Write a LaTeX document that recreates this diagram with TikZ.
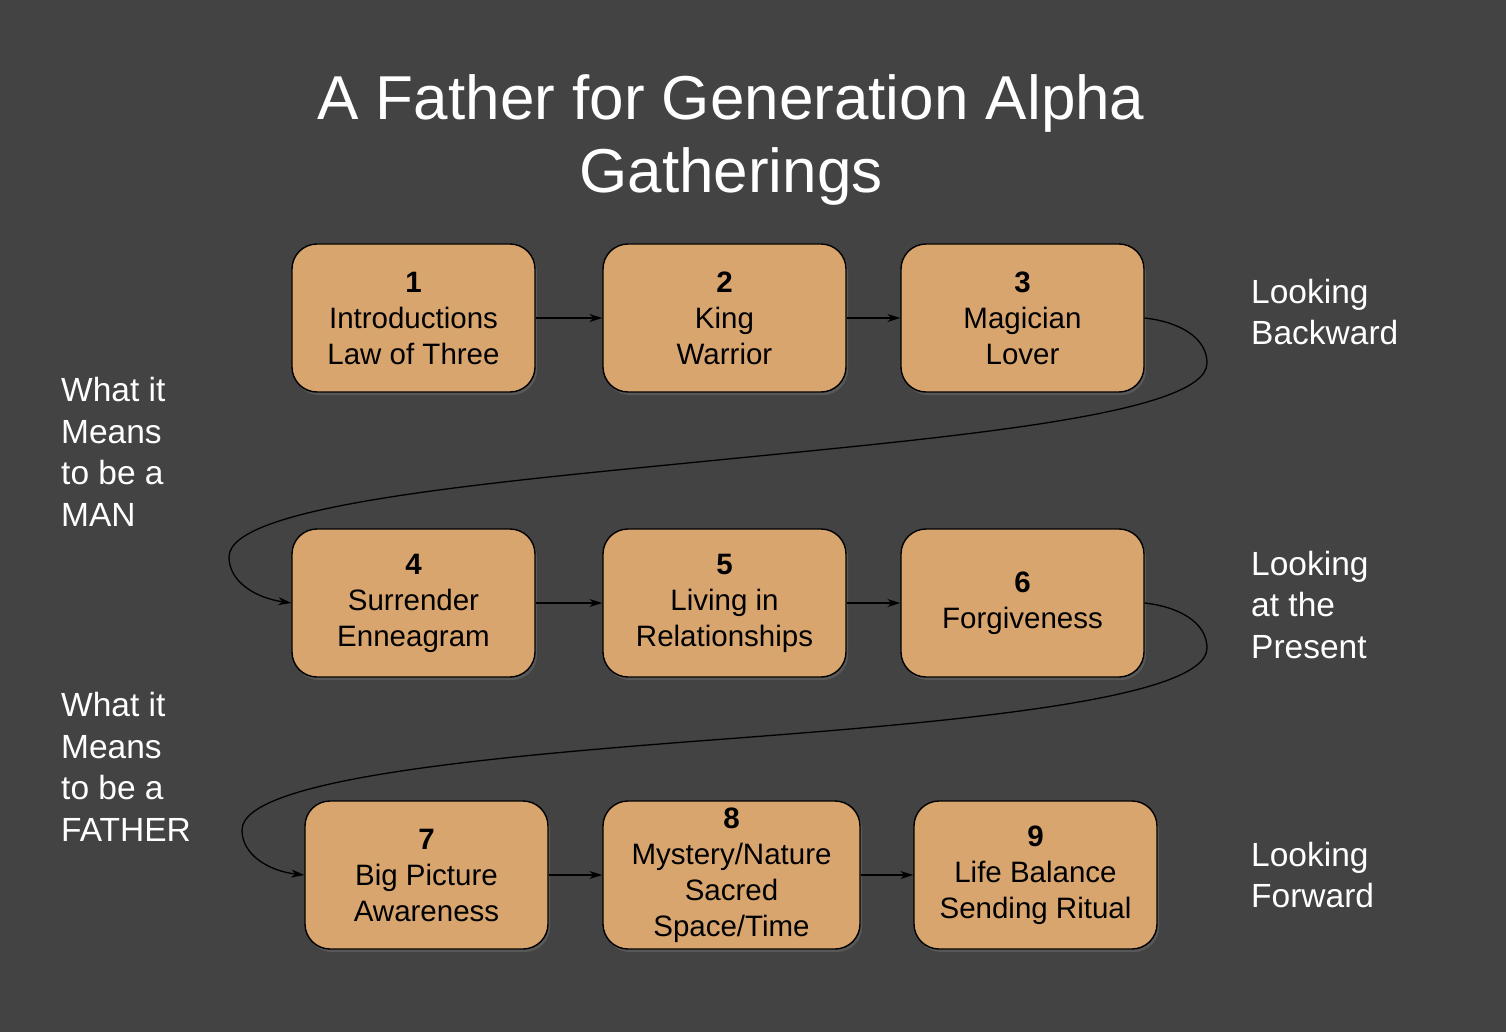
\documentclass[tikz,border=0pt]{standalone}
\usepackage{fontspec}
\setmainfont{Liberation Sans}
\usetikzlibrary{arrows.meta,shadows}
\definecolor{bgc}{HTML}{434343}
\definecolor{boxc}{HTML}{D8A56F}
\begin{document}
\begin{tikzpicture}[x=1pt,y=-1pt,
  stagebox/.style={draw=black, line width=1.4pt, fill=boxc, rounded corners=25pt,
    minimum height=148pt, inner sep=0pt, align=center, text=black,
    font=\fontsize{29.5}{36}\selectfont,
    drop shadow={opacity=0.35, shadow xshift=2pt, shadow yshift=-3pt}},
  sidelabel/.style={text=white, align=left, inner sep=0pt, font=\fontsize{33.5}{41.5}\selectfont},
  conn/.style={draw=black, line width=1.3pt, -{Stealth[length=13pt,width=8pt,inset=4pt]}}
]
\fill[bgc] (0,0) rectangle (1506,1032);
\useasboundingbox (0,0) rectangle (1506,1032);

\node[text=white, align=center, font=\fontsize{62}{73}\selectfont] (title) at (731,140) {A Father for Generation Alpha\\Gatherings};

% row 1
\node[stagebox, minimum width=243pt] (b1) at (413.5,318) {\textbf{1}\\Introductions\\Law of Three};
\node[stagebox, minimum width=243pt] (b2) at (724.5,318) {\textbf{2}\\King\\Warrior};
\node[stagebox, minimum width=243pt] (b3) at (1022.5,318) {\textbf{3}\\Magician\\Lover};
% row 2
\node[stagebox, minimum width=243pt] (b4) at (413.5,603) {\textbf{4}\\Surrender\\Enneagram};
\node[stagebox, minimum width=243pt] (b5) at (724.5,603) {\textbf{5}\\Living in\\Relationships};
\node[stagebox, minimum width=243pt] (b6) at (1022.5,603) {\textbf{6}\\Forgiveness};
% row 3
\node[stagebox, minimum width=243pt] (b7) at (426.5,875) {\textbf{7}\\Big Picture\\Awareness};
\node[stagebox, minimum width=257pt] (b8) at (731.5,875) {\textbf{8}\\Mystery/Nature\\Sacred\\Space/Time};
\node[stagebox, minimum width=243pt] (b9) at (1035.5,875) {\textbf{9}\\Life Balance\\Sending Ritual};

% side labels
\node[sidelabel, anchor=west] (lb) at (1251,312) {Looking\\Backward};
\node[sidelabel, anchor=west] (lp) at (1251,605) {Looking\\at the\\Present};
\node[sidelabel, anchor=west] (lf) at (1251,875) {Looking\\Forward};
\node[sidelabel, anchor=west] (lman) at (61,452) {What it\\Means\\to be a\\MAN};
\node[sidelabel, anchor=west] (lfather) at (61,767) {What it\\Means\\to be a\\FATHER};

% connectors
\draw[conn] (b1) -- (b2);
\draw[conn] (b2) -- (b3);
\draw[conn] (b4) -- (b5);
\draw[conn] (b5) -- (b6);
\draw[conn] (b7) -- (b8);
\draw[conn] (b8) -- (b9);

\draw[conn] (b3.east) .. controls (1180,322) and (1207,338) .. (1207,363)
  .. controls (1207,415) and (950,437) .. (718,460)
  .. controls (486,483) and (229,505) .. (229,557)
  .. controls (229,582) and (256,598) .. (b4.west);

\draw[conn] (b6.east) .. controls (1180,607) and (1207,623) .. (1207,648)
  .. controls (1207,700) and (950,722) .. (724.5,739)
  .. controls (499,756) and (242,778) .. (242,830)
  .. controls (242,855) and (269,871) .. (b7.west);
\end{tikzpicture}
\end{document}
